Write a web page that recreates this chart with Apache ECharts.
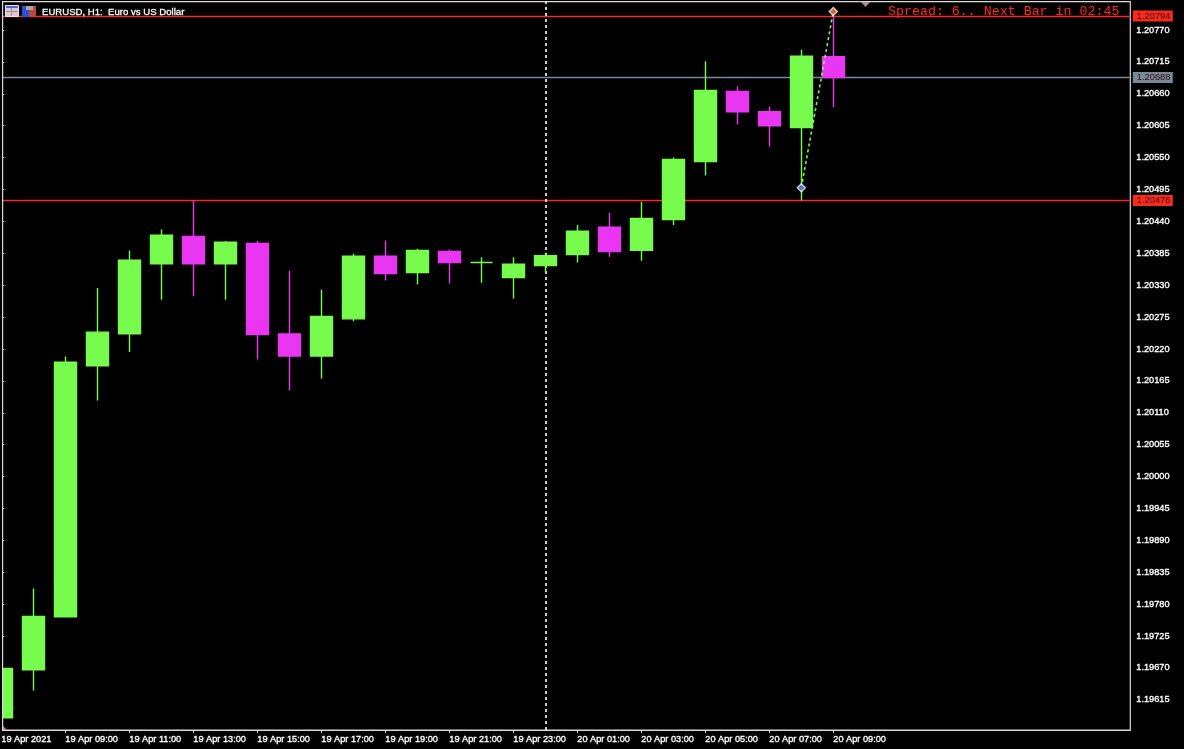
<!DOCTYPE html>
<html><head><meta charset="utf-8">
<style>html,body{margin:0;padding:0;background:#000;overflow:hidden}#c{width:1184px;height:749px}</style>
<script src="https://cdn.jsdelivr.net/npm/echarts@6/dist/echarts.min.js"></script>
</head><body><div id="c"></div>
<script>
const categories = ['19 Apr 2021','19 Apr 08:00','19 Apr 09:00','19 Apr 10:00','19 Apr 11:00','19 Apr 12:00','19 Apr 13:00','19 Apr 14:00','19 Apr 15:00','19 Apr 16:00','19 Apr 17:00','19 Apr 18:00','19 Apr 19:00','19 Apr 20:00','19 Apr 21:00','19 Apr 22:00','19 Apr 23:00','20 Apr 00:00','20 Apr 01:00','20 Apr 02:00','20 Apr 03:00','20 Apr 04:00','20 Apr 05:00','20 Apr 06:00','20 Apr 07:00','20 Apr 08:00','20 Apr 09:00'];
const opens  = [1.19584,1.19667,1.19758,1.20191,1.20246,1.20367,1.20414,1.20367,1.20402,1.20246,1.20208,1.20272,1.20380,1.20352,1.20388,1.20369,1.20343,1.20364,1.20383,1.20430,1.20390,1.20443,1.20543,1.20664,1.20629,1.20602,1.20724];
const closes = [1.19669,1.19759,1.20197,1.20249,1.20373,1.20416,1.20367,1.20404,1.20245,1.20208,1.20276,1.20380,1.20350,1.20390,1.20369,1.20369,1.20366,1.20381,1.20423,1.20388,1.20445,1.20547,1.20666,1.20629,1.20605,1.20725,1.20688];
const lows   = [1.19584,1.19631,1.19758,1.20131,1.20215,1.20305,1.20311,1.20305,1.20202,1.20149,1.20169,1.20268,1.20338,1.20331,1.20333,1.20334,1.20307,1.20352,1.20369,1.20379,1.20372,1.20434,1.20519,1.20607,1.20569,1.20476,1.20637];
const highs  = [1.19669,1.19807,1.20207,1.20325,1.20390,1.20426,1.20476,1.20406,1.20406,1.20355,1.20322,1.20384,1.20407,1.20393,1.20391,1.20378,1.20378,1.20386,1.20434,1.20455,1.20474,1.20550,1.20716,1.20673,1.20638,1.20736,1.20794];
const priceTicks = [1.19615,1.19670,1.19725,1.19780,1.19835,1.19890,1.19945,1.20000,1.20055,1.20110,1.20165,1.20220,1.20275,1.20330,1.20385,1.20440,1.20495,1.20550,1.20605,1.20660,1.20715,1.20770];
const redLevels = [1.20794,1.20476];
const bidLevel = 1.20688;
const cursorIndex = 17;
const tradeIndex = [25,26];
const tradePrice = [1.20498,1.20802];
const titleText = 'EURUSD, H1:  Euro vs US Dollar';
const infoText = 'Spread: 6.. Next Bar in 02:45';

const GREEN='#77FC4E', MAGENTA='#E936F2', RED='#F82A1C', SLATE='#778899', FRAME='#DADADA';
const sans='"Liberation Sans", Arial, sans-serif';
const tag=(bg)=>({show:true,position:'end',distance:2.5,formatter:p=>p.value.toFixed(5),backgroundColor:bg,color:'#3a0d08',fontFamily:sans,fontSize:9.3,width:36,height:11,lineHeight:11,align:'left',verticalAlign:'middle',padding:[0,0,0,4]});
const axisText={color:'#fff',fontFamily:sans,fontSize:9.2,textBorderColor:'#fff',textBorderWidth:0.35};

const chart=echarts.init(document.getElementById('c'),null,{renderer:'canvas',width:1184,height:749});
chart.setOption({
  animation:false,
  backgroundColor:'#000',
  title:[
    {text:titleText,left:42,top:7,textStyle:{color:'#fff',fontFamily:sans,fontSize:9.6,fontWeight:'normal',textBorderColor:'#fff',textBorderWidth:0.3},padding:0},
    {text:infoText,left:888,top:5,textStyle:{color:'#FF2A1A',fontFamily:'"Liberation Mono",monospace',fontSize:13.3,fontWeight:'normal'},padding:0}
  ],
  grid:{left:1.3,top:1.6,width:1129,height:728.4,outerBoundsMode:'none',show:true,backgroundColor:'#000',borderColor:FRAME,borderWidth:1.2},
  xAxis:{type:'value',min:0,max:1129/32,splitLine:{show:false},
    axisLine:{show:true,onZero:false,lineStyle:{color:FRAME,width:1.2}},
    axisTick:{show:true,length:3,inside:false,lineStyle:{color:FRAME},customValues:categories.map((_,i)=>i).filter(i=>i%2===0)},
    axisLabel:Object.assign({show:true,align:'left',margin:5,hideOverlap:false,showMinLabel:true,showMaxLabel:true,
      customValues:categories.map((_,i)=>i).filter(i=>i%2===0),formatter:v=>categories[Math.round(v)]},axisText)},
  yAxis:{type:'value',position:'right',min:1.19563,max:1.20819,scale:true,splitLine:{show:false},
    axisLine:{show:true,lineStyle:{color:FRAME,width:1.2}},
    axisTick:{show:true,length:3,lineStyle:{color:FRAME},customValues:priceTicks},
    axisLabel:Object.assign({show:true,margin:6,hideOverlap:false,customValues:priceTicks,formatter:v=>v.toFixed(5)},axisText)},
  series:[
    {type:'candlestick',barWidth:22,z:3,clip:true,
     data:categories.map((_,i)=>[i,opens[i],closes[i],lows[i],highs[i]]),
     itemStyle:{color:GREEN,color0:MAGENTA,borderColor:GREEN,borderColor0:MAGENTA,borderColorDoji:GREEN,borderWidth:1.4},
     markLine:{silent:true,symbol:'none',animation:false,precision:5,z:2,
       data:[
         {yAxis:redLevels[0],lineStyle:{color:RED,type:'solid',width:1.3},label:tag(RED)},
         {yAxis:redLevels[1],lineStyle:{color:RED,type:'solid',width:1.3},label:tag(RED)},
         {yAxis:bidLevel,lineStyle:{color:SLATE,type:'solid',width:1.3},label:tag(SLATE)},
         {xAxis:cursorIndex,lineStyle:{color:'#fff',type:[3,3],width:1.6},label:{show:false}}
       ]}},
    {type:'line',z:5,data:tradeIndex.map((x,i)=>[x,tradePrice[i]]),symbol:'none',lineStyle:{color:GREEN,type:[3,3],width:1.6}},
    {type:'scatter',z:6,symbol:'diamond',symbolSize:10,silent:true,data:tradeIndex.map((x,i)=>[x,tradePrice[i]]),itemStyle:{color:'#fff'}},
    {type:'scatter',z:7,symbol:'diamond',symbolSize:6,silent:true,
     data:[{value:[tradeIndex[0],tradePrice[0]],itemStyle:{color:'#1E5FC0'}},{value:[tradeIndex[1],tradePrice[1]],itemStyle:{color:'#E8401C'}}]}
  ],
  graphic:[
    {type:'rect',z:30,shape:{x:0,y:0,width:2,height:749},style:{fill:'#000'}},
    {type:'rect',z:31,shape:{x:2,y:1.5,width:1.2,height:729},style:{fill:FRAME}},
    {type:'rect',z:20,shape:{x:5.5,y:5.5,width:13,height:11},style:{fill:'#E8C4C0',stroke:'#E0E4F4',lineWidth:1}},
    {type:'rect',z:21,shape:{x:6,y:6,width:12,height:2},style:{fill:'#4A6AD0'}},
    {type:'rect',z:21,shape:{x:11,y:8,width:1,height:8},style:{fill:'#8090D0'}},
    {type:'rect',z:21,shape:{x:6,y:11,width:12,height:1},style:{fill:'#8090D0'}},
    {type:'rect',z:20,shape:{x:22,y:6,width:7,height:11},style:{fill:'#2A50D8'}},
    {type:'rect',z:20,shape:{x:29,y:6,width:7,height:11},style:{fill:'#B84A3C'}},
    {type:'rect',z:21,shape:{x:26,y:6,width:7,height:4},style:{fill:'#A8A8A8'}},
    {type:'polygon',z:20,shape:{points:[[861,2],[870,2],[865.5,7]]},style:{fill:'#A89090'}},
    {type:'polygon',z:32,shape:{points:[[3,726],[7,730],[3,730]]},style:{fill:'#C09090'}}
  ]
});
</script></body></html>
